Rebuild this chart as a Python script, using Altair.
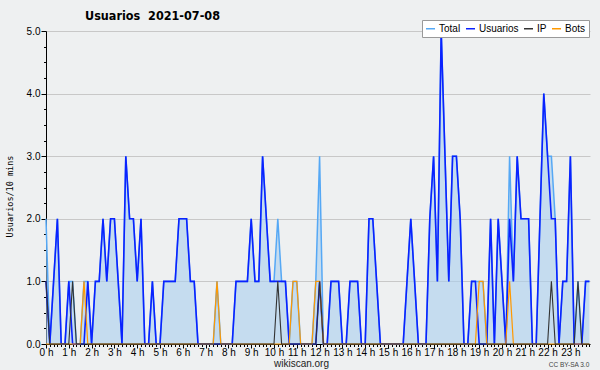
import json
import altair as alt
import pandas as pd

# ---------------- data ----------------
SERIES = ["Total", "Usuarios", "IP", "Bots"]
COLORS = ["#55a8f5", "#0a22ff", "#333333", "#ff9900"]
HOUR_LABELS = [f"{h} h" for h in range(24)]
TITLE = "Usuarios\u00a0 2021-07-08"
Y_TITLE = "Usuarios/10 mins"
X_TITLE = "wikiscan.org"
CREDIT = "CC BY-SA 3.0"

# one value per 10 minutes, six per row (one row per hour)
TOTAL = [
    2, 0, 1, 2, 0, 0,
    1, 1, 0, 0, 1, 1,
    0, 1, 1, 2, 1, 2,
    2, 1, 0, 3, 2, 2,
    1, 2, 0, 0, 1, 0,
    0, 1, 1, 1, 1, 2,
    2, 2, 1, 1, 0, 0,
    0, 0, 0, 1, 0, 0,
    0, 0, 1, 1, 1, 1,
    2, 1, 1, 3, 2, 1,
    1, 2, 1, 1, 0, 1,
    1, 0, 0, 0, 0, 1,
    3, 0, 0, 1, 1, 1,
    0, 0, 1, 1, 1, 0,
    0, 2, 2, 1, 0, 0,
    0, 0, 0, 0, 0, 1,
    2, 1, 0, 0, 0, 2,
    3, 1, 5, 3, 1, 3,
    3, 2, 0, 0, 1, 1,
    1, 1, 0, 2, 0, 2,
    1, 0, 3, 1, 3, 2,
    2, 2, 0, 0, 2, 4,
    3, 3, 2, 0, 1, 1,
    3, 0, 1, 0, 1, 1,
]
USUARIOS = [
    1, 0, 1, 2, 0, 0,
    1, 0, 0, 0, 0, 1,
    0, 1, 1, 2, 1, 2,
    2, 1, 0, 3, 2, 2,
    1, 2, 0, 0, 1, 0,
    0, 1, 1, 1, 1, 2,
    2, 2, 1, 1, 0, 0,
    0, 0, 0, 0, 0, 0,
    0, 0, 1, 1, 1, 1,
    2, 1, 1, 3, 2, 1,
    1, 1, 1, 1, 0, 0,
    0, 0, 0, 0, 0, 0,
    1, 0, 0, 1, 1, 1,
    0, 0, 1, 1, 1, 0,
    0, 2, 2, 1, 0, 0,
    0, 0, 0, 0, 0, 1,
    2, 1, 0, 0, 0, 2,
    3, 1, 5, 3, 1, 3,
    3, 2, 0, 0, 1, 1,
    0, 0, 0, 2, 0, 2,
    1, 0, 2, 1, 3, 2,
    2, 2, 0, 0, 2, 4,
    3, 2, 2, 0, 1, 1,
    3, 0, 0, 0, 1, 1,
]
IP = [
    1, 0, 0, 0, 0, 0,
    0, 1, 0, 0, 0, 0,
    0, 0, 0, 0, 0, 0,
    0, 0, 0, 0, 0, 0,
    0, 0, 0, 0, 0, 0,
    0, 0, 0, 0, 0, 0,
    0, 0, 0, 0, 0, 0,
    0, 0, 0, 0, 0, 0,
    0, 0, 0, 0, 0, 0,
    0, 0, 0, 0, 0, 0,
    0, 1, 0, 0, 0, 0,
    0, 0, 0, 0, 0, 0,
    1, 0, 0, 0, 0, 0,
    0, 0, 0, 0, 0, 0,
    0, 0, 0, 0, 0, 0,
    0, 0, 0, 0, 0, 0,
    0, 0, 0, 0, 0, 0,
    0, 0, 0, 0, 0, 0,
    0, 0, 0, 0, 0, 0,
    0, 0, 0, 0, 0, 0,
    0, 0, 0, 0, 0, 0,
    0, 0, 0, 0, 0, 0,
    0, 1, 0, 0, 0, 0,
    0, 0, 1, 0, 0, 0,
]
BOTS = [
    0, 0, 0, 0, 0, 0,
    0, 0, 0, 0, 1, 0,
    0, 0, 0, 0, 0, 0,
    0, 0, 0, 0, 0, 0,
    0, 0, 0, 0, 0, 0,
    0, 0, 0, 0, 0, 0,
    0, 0, 0, 0, 0, 0,
    0, 0, 0, 1, 0, 0,
    0, 0, 0, 0, 0, 0,
    0, 0, 0, 0, 0, 0,
    0, 0, 0, 0, 0, 1,
    1, 0, 0, 0, 0, 1,
    1, 0, 0, 0, 0, 0,
    0, 0, 0, 0, 0, 0,
    0, 0, 0, 0, 0, 0,
    0, 0, 0, 0, 0, 0,
    0, 0, 0, 0, 0, 0,
    0, 0, 0, 0, 0, 0,
    0, 0, 0, 0, 0, 0,
    1, 1, 0, 0, 0, 0,
    0, 0, 1, 0, 0, 0,
    0, 0, 0, 0, 0, 0,
    0, 0, 0, 0, 0, 0,
    0, 0, 0, 0, 0, 0,
]

N = len(TOTAL)
time_h = [i / 6 for i in range(N)]  # position of each 10-minute slot in hours

rows = []
for name, vals in zip(SERIES, [TOTAL, USUARIOS, IP, BOTS]):
    for t, v in zip(time_h, vals):
        rows.append({"t": t, "v": v, "serie": name})
df = pd.DataFrame(rows)

# ---------------- style ----------------
TFONT = "DejaVu Sans Condensed"
FONT = "Liberation Sans"
BG = "#eef0f1"

x_ticks = [i / 6 for i in range(N)]
y_ticks = [i / 4 for i in range(21)]
is_int = "datum.value % 1 === 0"

X = alt.X(
    "t:Q",
    scale=alt.Scale(domain=[0, 23.86], nice=False, zero=False),
    axis=alt.Axis(
        values=x_ticks,
        labelExpr=f"{is_int} ? {json.dumps(HOUR_LABELS)}[datum.value] : ''",
        labelOverlap=False,
        labelFlush=False,
        labelFont=FONT,
        labelFontSize=10,
        labelColor="black",
        labelPadding=-1,
        tickSize={"condition": {"test": is_int, "value": 4}, "value": 2.5},
        tickColor="black",
        domainColor="black",
        grid=False,
        title=X_TITLE,
        titleFont=FONT,
        titleFontSize=10,
        titleFontWeight="normal",
        titleColor="#222",
        titleX=255,
        titleY=19,
        titleBaseline="middle",
        titleAlign="center",
    ),
)
Y = alt.Y(
    "v:Q",
    scale=alt.Scale(domain=[0, 5], nice=False),
    axis=alt.Axis(
        values=y_ticks,
        labelExpr=f"{is_int} ? format(datum.value, '.1f') : ''",
        labelOverlap=False,
        labelFont=FONT,
        labelFontSize=10,
        labelColor="black",
        labelPadding=1,
        tickSize={"condition": {"test": is_int, "value": 5}, "value": 2.5},
        tickColor="black",
        domainColor="black",
        grid=True,
        gridColor="#c8c8c8",
        gridOpacity={"condition": {"test": is_int, "value": 1}, "value": 0},
        title=Y_TITLE,
        titleFont="DejaVu Sans Mono",
        titleFontSize=8.5,
        titleFontWeight="normal",
        titleColor="black",
        titleX=-37,
        titleY=165,
        titleAngle=-90,
        titleAlign="center",
        titleBaseline="middle",
    ),
)

COLOR = alt.Color(
    "serie:N",
    scale=alt.Scale(domain=SERIES, range=COLORS),
    legend=alt.Legend(
        orient="none",
        legendX=376,
        legendY=-11,
        direction="horizontal",
        title=None,
        symbolType="stroke",
        symbolSize=81,
        symbolStrokeWidth=1.5,
        labelFont=FONT,
        labelFontSize=10,
        labelColor="black",
        labelOffset=3,
        columnPadding=2,
        padding=3,
        fillColor="white",
        strokeColor="#999999",
    ),
)

area = (
    alt.Chart(df)
    .transform_filter("datum.serie === 'Total'")
    .mark_area(color="#aacfef", opacity=0.6)
    .encode(x=X, y=Y)
)

widths = {"Total": 1.5, "Usuarios": 1.6, "Bots": 1.2, "IP": 1.1}
line_layers = [
    alt.Chart(df)
    .transform_filter(f"datum.serie === '{name}'")
    .mark_line(strokeWidth=widths[name])
    .encode(x=X, y=Y, color=COLOR)
    for name in ["Total", "Usuarios", "Bots", "IP"]
]

credit = (
    alt.Chart(pd.DataFrame({"txt": [CREDIT]}))
    .mark_text(font=FONT, fontSize=6.5, color="#444", align="center", baseline="middle")
    .encode(x=alt.value(523), y=alt.value(334), text="txt:N")
)

chart = (
    alt.layer(area, *line_layers, credit)
    .properties(
        width=544,
        height=313,
        autosize=alt.AutoSizeParams(type="none"),
        padding={"left": 46, "top": 31, "right": 10, "bottom": 26},
        title=alt.TitleParams(
            TITLE,
            anchor="start",
            frame="group",
            dx=39,
            dy=7,
            font=TFONT,
            fontSize=12.5,
            fontWeight="bold",
            color="black",
        ),
    )
    .configure(background=BG)
    .configure_view(strokeWidth=0)
)

chart.save("out.html", embed_options={"renderer": "svg", "actions": False})
